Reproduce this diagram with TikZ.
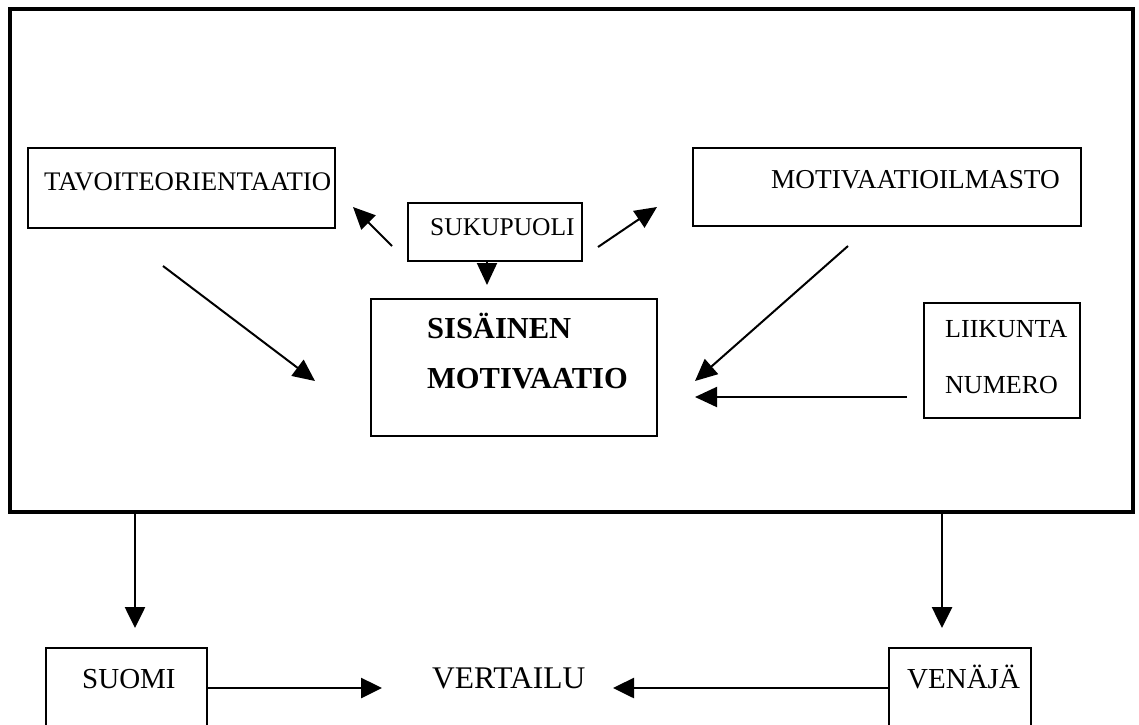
\documentclass[tikz,border=0pt]{standalone}
\usepackage{fontspec}
\setmainfont{Liberation Serif}
\usetikzlibrary{arrows.meta,fit}
\begin{document}
\begin{tikzpicture}[x=1pt,y=-1pt,
  boxx/.style={draw,line width=2.7pt,inner sep=0pt},
  lbl/.style={anchor=base west,inner sep=0pt,font=\fontsize{26}{28}\selectfont},
  blbl/.style={anchor=base west,inner sep=0pt,font=\fontsize{30.5}{32}\selectfont\bfseries},
  llbl/.style={anchor=base west,inner sep=0pt,font=\fontsize{29.5}{32}\selectfont},
  conn/.style={line width=2pt,-{Triangle[length=22pt,width=20pt]}},
  thick conn/.style={line width=2.6pt,-{Triangle[length=21pt,width=20pt]}}]
\useasboundingbox (0,0) rectangle (1139,724);
\fill[white] (0,0) rectangle (1139,724);
% boxes
\node (outer) [draw,line width=3.2pt,inner sep=0pt,fit={(10,9) (1133,512)}] {};
\node (tav) [boxx,fit={(28,148) (335,228)}] {};
\node (suk) [boxx,fit={(408,203) (582,261)}] {};
\node (sis) [boxx,fit={(371,299) (657,436)}] {};
\node (mot) [boxx,fit={(693,148) (1081,226)}] {};
\node (lii) [boxx,fit={(924,303) (1080,418)}] {};
\node (suo) [boxx,fit={(46,648) (207,732)}] {};
\node (ven) [boxx,fit={(889,648) (1031,732)}] {};
% texts
\node (tavt) [lbl,font=\fontsize{26.8}{28}\selectfont] at (44,190) {TAVOITEORIENTAATIO};
\node (sukt) [lbl,font=\fontsize{25.5}{28}\selectfont] at (430,235) {SUKUPUOLI};
\node (sist1) [blbl] at (427,338) {SISÄINEN};
\node (sist2) [blbl] at (427,388) {MOTIVAATIO};
\node (mott) [lbl,font=\fontsize{27.3}{28}\selectfont] at (771,188) {MOTIVAATIOILMASTO};
\node (liit1) [lbl] at (945,337) {LIIKUNTA};
\node (liit2) [lbl] at (945,393) {NUMERO};
\node (suot) [llbl,font=\fontsize{29}{32}\selectfont] at (82,688) {SUOMI};
\node (vert) [llbl,font=\fontsize{31.5}{32}\selectfont] at (432,688) {VERTAILU};
\node (vent) [llbl,font=\fontsize{29}{32}\selectfont] at (907,688) {VENÄJÄ};
% arrow end points
\coordinate (a1s) at (392,246); \coordinate (a1e) at (353,207);
\coordinate (a2s) at (598,247); \coordinate (a2e) at (657,207);
\coordinate (a3e) at (487,285);
\coordinate (a4s) at (163,266); \coordinate (a4e) at (315,381);
\coordinate (a5s) at (848,246); \coordinate (a5e) at (695,381);
\coordinate (a6s) at (907,397); \coordinate (a6e) at (695,397);
\coordinate (a7s) at (135,512); \coordinate (a7e) at (135,628);
\coordinate (a8s) at (942,512); \coordinate (a8e) at (942,628);
\coordinate (a9s) at (207,688); \coordinate (a9e) at (382,688);
\coordinate (a10s) at (889,688); \coordinate (a10e) at (613,688);
% connectors
\draw[conn] (a1s) -- (a1e);
\draw[conn] (a2s) -- (a2e);
\draw[conn] (suk.south -| a3e) -- (a3e);
\draw[conn] (a4s) -- (a4e);
\draw[conn] (a5s) -- (a5e);
\draw[conn] (a6s) -- (a6e);
\draw[thick conn] (a7s) -- (a7e);
\draw[thick conn] (a8s) -- (a8e);
\draw[thick conn] (a9s) -- (a9e);
\draw[thick conn] (a10s) -- (a10e);
\end{tikzpicture}
\end{document}
